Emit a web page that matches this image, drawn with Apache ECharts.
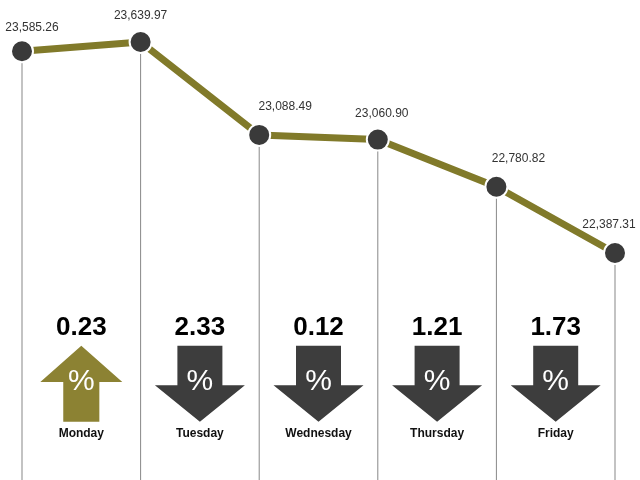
<!DOCTYPE html>
<html>
<head>
<meta charset="utf-8">
<script src="https://cdn.jsdelivr.net/npm/echarts@6/dist/echarts.min.js"></script>
<style>html,body{margin:0;padding:0;background:#fff}#chart{width:640px;height:480px}</style>
</head>
<body>
<div id="chart"></div>
<script>
var closes = [23585.26, 23639.97, 23088.49, 23060.90, 22780.82, 22387.31];
var days = ['Monday', 'Tuesday', 'Wednesday', 'Thursday', 'Friday'];
var changes = ['0.23', '2.33', '0.12', '1.21', '1.73'];
var dirs = ['up', 'down', 'down', 'down', 'down'];

var upPath = 'path://M50,0 L100,48 L72,48 L72,100 L28,100 L28,48 L0,48 Z';
var downPath = 'path://M25,0 L75,0 L75,52 L100,52 L50,100 L0,52 L25,52 Z';

var chart = echarts.init(document.getElementById('chart'));
var fmt = function (v) { return v.toLocaleString('en-US', {minimumFractionDigits: 2}); };
var labelOffsets = [[10, 2], [0, 0], [26, -2], [4, 0], [22, -2], [-6, -2]];

chart.setOption({
  animation: false,
  grid: {left: 22, right: 25, top: 42, bottom: 0},
  xAxis: {type: 'value', min: 0, max: 5, show: false},
  yAxis: [
    {type: 'value', min: 21040, max: 23640, show: false},
    {type: 'value', min: 0, max: 100, show: false}
  ],
  series: [
    {
      type: 'bar', barWidth: 1, silent: true,
      itemStyle: {color: '#888'},
      data: closes.map(function (v, i) { return [i, v]; })
    },
    {
      type: 'line', z: 5,
      data: closes.map(function (v, i) {
        return {value: [i, v], label: {offset: labelOffsets[i]}};
      }),
      lineStyle: {color: '#817a2a', width: 7},
      symbol: 'circle', symbolSize: 22,
      itemStyle: {color: '#3a3a3a', borderColor: '#fff', borderWidth: 2},
      label: {
        show: true, position: 'top', distance: 8,
        color: '#333', fontSize: 12, fontFamily: 'Liberation Sans',
        formatter: function (p) { return fmt(p.value[1]); }
      }
    },
    {
      type: 'scatter', yAxisIndex: 1, z: 3,
      data: dirs.map(function (d, i) {
        return {
          value: [i + 0.5, 22],
          symbol: d === 'up' ? upPath : downPath,
          symbolSize: d === 'up' ? [82, 76] : [90, 76],
          itemStyle: {color: d === 'up' ? '#8c8233' : '#3d3d3d', opacity: 1}
        };
      }),
      label: {
        show: true, position: 'inside', offset: [0, -2],
        color: '#fff', fontSize: 30, fontFamily: 'Liberation Sans',
        formatter: '%'
      }
    },
    {
      type: 'scatter', yAxisIndex: 1, symbolSize: 0,
      itemStyle: {opacity: 1},
      data: changes.map(function (c, i) { return [i + 0.5, 34.8, c]; }),
      label: {
        show: true, position: 'inside',
        color: '#000', fontSize: 26, fontWeight: 'bold', fontFamily: 'Liberation Sans',
        formatter: function (p) { return p.value[2]; }
      }
    },
    {
      type: 'scatter', yAxisIndex: 1, symbolSize: 0,
      itemStyle: {opacity: 1},
      data: days.map(function (d, i) { return [i + 0.5, 10.5, d]; }),
      label: {
        show: true, position: 'inside',
        color: '#111', fontSize: 12, fontWeight: 'bold', fontFamily: 'Liberation Sans',
        formatter: function (p) { return p.value[2]; }
      }
    }
  ]
});
</script>
</body>
</html>
